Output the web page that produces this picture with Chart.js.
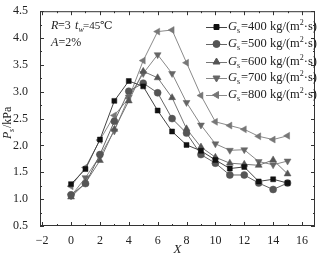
<!DOCTYPE html>
<html>
<head>
<meta charset="utf-8">
<script src="https://cdn.jsdelivr.net/npm/chart.js@4/dist/chart.umd.min.js"></script>
<style>
  html, body { margin: 0; padding: 0; background: #fff; }
  #wrap { width: 327px; height: 259px; }
</style>
</head>
<body>
<div id="wrap"><canvas id="chart" width="327" height="259"></canvas></div>
<script>
const xValues = [0, 1, 2, 3, 4, 5, 6, 7, 8, 9, 10, 11, 12, 13, 14, 15];
const gs400 = [1.28, 1.56, 2.11, 2.83, 3.20, 3.10, 2.65, 2.26, 2.01, 1.90, 1.73, 1.57, 1.60, 1.33, 1.37, 1.30];
const gs500 = [1.08, 1.29, 1.83, 2.45, 3.01, 3.16, 2.98, 2.50, 2.23, 1.83, 1.67, 1.45, 1.45, 1.30, 1.18, 1.30];
const gs600 = [1.04, 1.30, 1.72, 2.30, 2.83, 3.38, 3.26, 2.89, 2.31, 1.97, 1.78, 1.67, 1.65, 1.63, 1.73, 1.47];
const gs700 = [1.06, 1.40, 1.80, 2.27, 2.90, 3.34, 3.69, 3.34, 2.80, 2.38, 2.03, 1.91, 1.92, 1.70, 1.64, 1.71];
const gs800 = [1.24, 1.59, 2.10, 2.56, 2.88, 3.58, 4.12, 4.15, 3.54, 2.93, 2.44, 2.37, 2.30, 2.17, 2.11, 2.18];
const seriesNames = ['400', '500', '600', '700', '800'];
const xTicks = [-2, 0, 2, 4, 6, 8, 10, 12, 14, 16];
const yTicks = [0.5, 1.0, 1.5, 2.0, 2.5, 3.0, 3.5, 4.0, 4.5];

const serif = '"Liberation Serif", "DejaVu Serif", serif';
const styles = [
    { shape: 'rect', rot: 0, color: '#111', line: '#444', r: 3.5 },
    { shape: 'circle', rot: 0, color: '#555', line: '#666', r: 3.5 },
    { shape: 'triangle', rot: 0, color: '#555', line: '#777', r: 4 },
    { shape: 'triangle', rot: 180, color: '#666', line: '#888', r: 4 },
    { shape: 'triangle', rot: 270, color: '#777', line: '#8a8a8a', r: 4 }
];
const allData = [gs400, gs500, gs600, gs700, gs800];

const datasets = allData.map((vals, i) => ({
    label: 'Gs=' + seriesNames[i],
    data: xValues.map((x, j) => ({ x: x, y: vals[j] })),
    borderColor: styles[i].line,
    borderWidth: 1,
    backgroundColor: styles[i].color,
    pointStyle: styles[i].shape,
    rotation: styles[i].rot,
    pointRadius: styles[i].r,
    pointBorderColor: styles[i].color,
    pointBackgroundColor: styles[i].color,
    pointBorderWidth: 0.5,
    tension: 0
}));

// frame, inward ticks, legend, annotations, axis titles
const decorPlugin = {
    id: 'decor',
    afterDraw(chart) {
        const ctx = chart.ctx;
        const a = chart.chartArea;
        const xs = chart.scales.x, ys = chart.scales.y;
        ctx.save();
        ctx.strokeStyle = '#333';
        ctx.lineWidth = 1;
        ctx.strokeRect(a.left + 0.5, a.top + 0.5, a.right - a.left - 1, a.bottom - a.top - 1);

        ctx.beginPath();
        for (let v = -2; v <= 16; v += 1) {
            const px = Math.round(xs.getPixelForValue(v)) + 0.5;
            const len = v % 2 === 0 ? 4 : 2;
            ctx.moveTo(px, a.bottom); ctx.lineTo(px, a.bottom - len);
            ctx.moveTo(px, a.top); ctx.lineTo(px, a.top + len);
        }
        for (let v = 0.5; v <= 4.5001; v += 0.25) {
            const py = Math.round(ys.getPixelForValue(v)) + 0.5;
            const major = Math.abs((v * 2) - Math.round(v * 2)) < 1e-6;
            const len = major ? 4 : 2;
            ctx.moveTo(a.left, py); ctx.lineTo(a.left + len, py);
            ctx.moveTo(a.right, py); ctx.lineTo(a.right - len, py);
        }
        ctx.stroke();

        // legend
        const lx = 206, rows = [27, 44, 62, 78, 95];
        ctx.textBaseline = 'middle';
        styles.forEach((s, i) => {
            const y = rows[i];
            ctx.strokeStyle = s.line;
            ctx.beginPath();
            ctx.moveTo(lx, y + 0.5); ctx.lineTo(lx + 21, y + 0.5);
            ctx.stroke();
            ctx.fillStyle = s.color;
            ctx.strokeStyle = s.color;
            Chart.helpers.drawPoint(ctx, { pointStyle: s.shape, rotation: s.rot, radius: s.r, borderWidth: 0.5 }, lx + 10.5, y);
            ctx.fillStyle = '#222';
            ctx.font = 'italic 12.5px ' + serif;
            ctx.fillText('G', 228, y);
            let w = ctx.measureText('G').width;
            ctx.font = '8px ' + serif;
            ctx.fillText('s', 228 + w, y + 4);
            ctx.font = '12.5px ' + serif;
            const t1 = '=' + seriesNames[i] + ' kg/(m';
            ctx.fillText(t1, 228 + w + 4, y);
            const w2 = ctx.measureText(t1).width;
            ctx.font = '8px ' + serif;
            ctx.fillText('2', 232 + w + w2, y - 4);
            ctx.font = '12.5px ' + serif;
            ctx.fillText('·s)', 236 + w + w2, y);
        });

        // annotations
        ctx.fillStyle = '#222';
        ctx.font = 'italic 12px ' + serif;
        ctx.fillText('R', 51, 26);
        ctx.font = '12px ' + serif;
        ctx.fillText('=3', 58, 26);
        ctx.font = 'italic 12px ' + serif;
        ctx.fillText('t', 75, 26);
        ctx.font = 'italic 8px ' + serif;
        ctx.fillText('w', 78.5, 30);
        ctx.font = '11px ' + serif;
        ctx.fillText('=45℃', 83, 26);
        ctx.font = 'italic 12px ' + serif;
        ctx.fillText('A', 51, 43);
        ctx.font = '12px ' + serif;
        ctx.fillText('=2%', 58.5, 43);

        // axis titles
        ctx.textAlign = 'center';
        ctx.font = 'italic 13px ' + serif;
        ctx.fillText('X', (a.left + a.right) / 2, 250);
        ctx.translate(8, 117);
        ctx.rotate(-Math.PI / 2);
        ctx.textAlign = 'left';
        ctx.font = 'italic 12px ' + serif;
        ctx.fillText('P', -22, 0);
        ctx.font = 'italic 8px ' + serif;
        ctx.fillText('s', -15, 4);
        ctx.font = '12px ' + serif;
        ctx.fillText('/kPa', -11, 0);
        ctx.restore();
    }
};

new Chart(document.getElementById('chart'), {
    type: 'line',
    data: { datasets: datasets },
    plugins: [decorPlugin],
    options: {
        responsive: false,
        animation: false,
        layout: { padding: { top: 8, right: 12, left: 0, bottom: 0 } },
        plugins: { legend: { display: false }, tooltip: { enabled: false } },
        scales: {
            x: {
                type: 'linear',
                min: -2.15,
                max: 16.9,
                afterBuildTicks: s => { s.ticks = xTicks.map(v => ({ value: v })); },
                afterFit: s => { s.height = 33; },
                grid: { display: false },
                border: { display: false },
                ticks: {
                    color: '#222',
                    font: { family: serif, size: 12 },
                    padding: 0,
                    maxRotation: 0,
                    callback: v => v < 0 ? '\u2212' + Math.abs(v) : String(v)
                }
            },
            y: {
                min: 0.5,
                max: 4.5,
                afterBuildTicks: s => { s.ticks = yTicks.map(v => ({ value: v })); },
                afterFit: s => { s.width = 40; },
                grid: { display: false },
                border: { display: false },
                ticks: {
                    color: '#222',
                    font: { family: serif, size: 12 },
                    padding: 4,
                    callback: v => Number(v).toFixed(1)
                }
            }
        }
    }
});
</script>
</body>
</html>
